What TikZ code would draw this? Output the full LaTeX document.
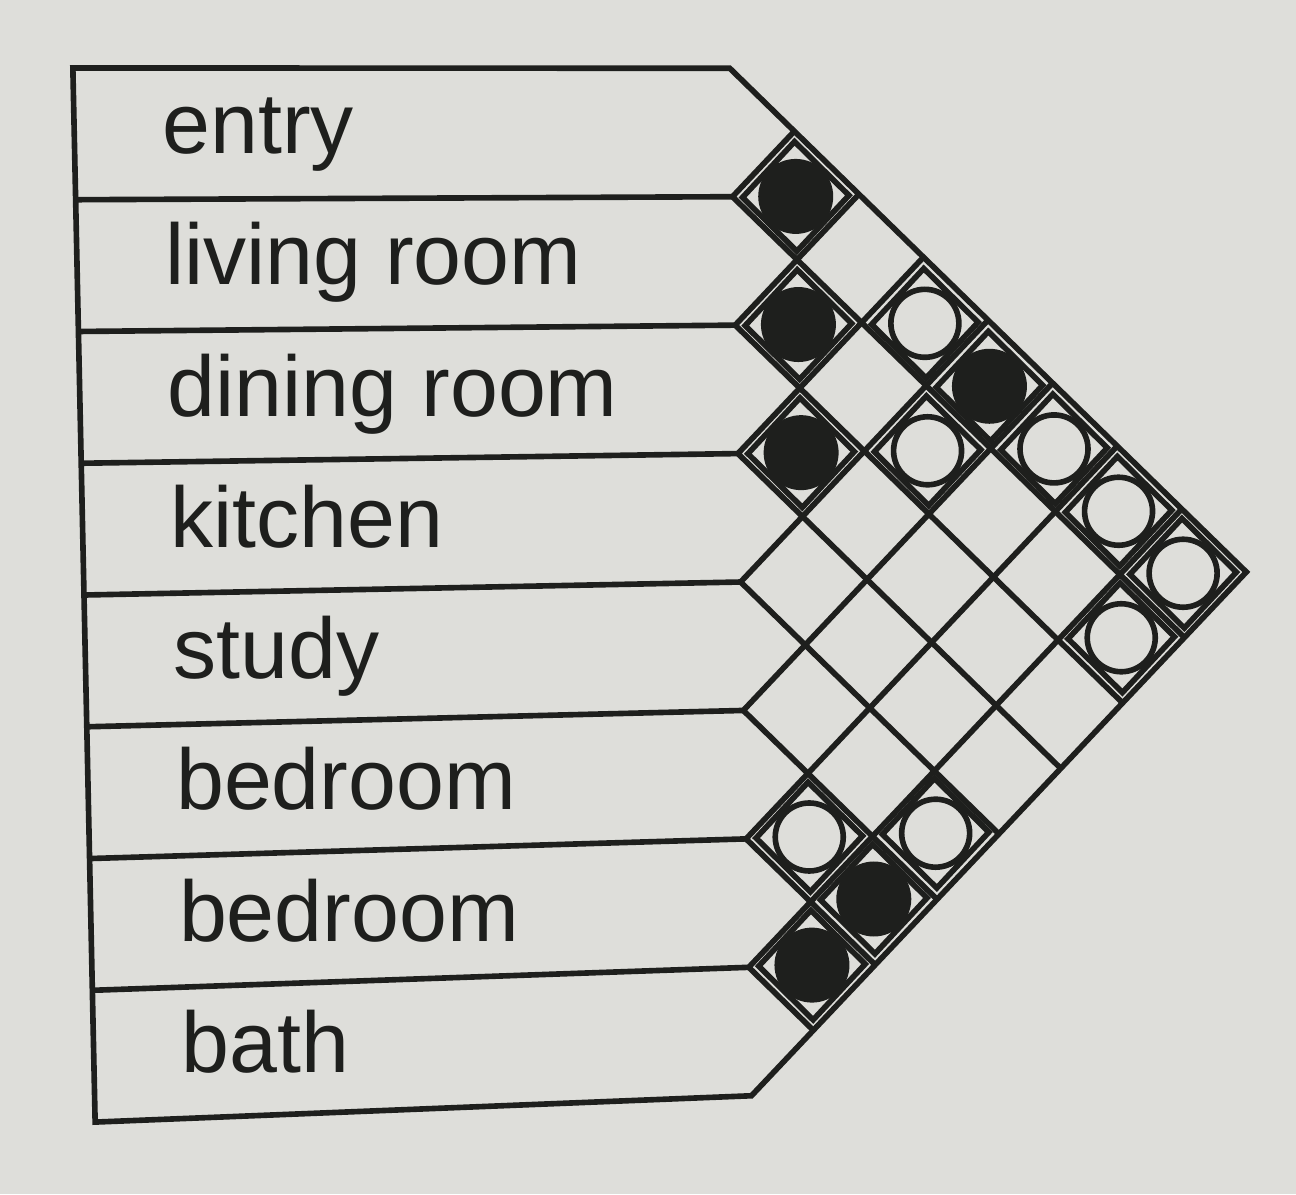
\documentclass[tikz,border=0pt]{standalone}
\usepackage{fontspec}
\setmainfont{Liberation Sans}
\usetikzlibrary{calc}
\definecolor{paper}{RGB}{222,222,218}
\definecolor{ink}{RGB}{30,31,29}
\tikzset{gridline/.style={ % outline and every line of the grid
draw=ink,
line width=1.6pt},
room/.style={ % name of a room, set on its baseline
anchor=base west,
inner sep=0pt,
text=ink,
font=\fontsize{24.5}{28}\selectfont},
markframe/.style={ % small square round a mark
draw=ink,
line width=1.6pt},
strongmark/.style={ % filled circle
circle, fill=ink, inner sep=0pt, minimum size=0.75cm},
weakmark/.style={ % open circle
circle, draw=ink, line width=1.6pt, inner sep=0pt, minimum size=0.68cm}}

\begin{document}
\begin{tikzpicture}[x={(0.01cm,0.000193cm)}, y={(-0.0275cm,1.301cm)},
	declare function={wv(\u,\v)=\v+(\v-4)*0.0128*(1-2*\u/657);}] % rows a bit taller on the left, as in the photo
	\def\rowlen{657} % a row up to the grid
	\def\halfw{63.25} % half width of a grid square
	\fill[paper] (-0.73cm,0.746cm) rectangle (12.23cm,-11.194cm);
	\useasboundingbox (-0.73cm,0.746cm) rectangle (12.23cm,-11.194cm);

	\foreach \k in {0,...,8} {
		\coordinate (l\k) at (0,{-wv(0,\k)});
		\coordinate (r\k) at (\rowlen,{-wv(\rowlen,\k)});
	}
	\coordinate (tip) at ({\rowlen+8*\halfw},-4);
	\draw[gridline] (tip) -- (r0) -- (l0) -- (l8) -- (r8) -- cycle;
	\foreach \k in {1,...,7} {
		\draw[gridline] (l\k) -- (r\k);
		\draw[gridline] ($(r0)!\k/8!(tip)$) -- (r\k) -- ($(r8)!1-\k/8!(tip)$);
	}

	\node[room] (entry) at (87,{-wv(87,0.65)}) {entry};
	\node[room] (living) at (87,{-wv(87,1.65)}) {living room};
	\node[room] (dining) at (87,{-wv(87,2.65)}) {dining room};
	\node[room] (kitchen) at (87,{-wv(87,3.65)}) {kitchen};
	\node[room] (study) at (87,{-wv(87,4.65)}) {study};
	\node[room] (bedroomA) at (87,{-wv(87,5.65)}) {bedroom};
	\node[room] (bedroomB) at (87,{-wv(87,6.65)}) {bedroom};
	\node[room] (bath) at (87,{-wv(87,7.65)}) {bath};

	% square of rows i and j sits (i+j+1)/2 rows down, j-i half widths out
	\foreach \i/\j/\kind in {0/1/strongmark,1/2/strongmark,2/3/strongmark,0/4/strongmark,5/7/strongmark,6/7/strongmark,0/3/weakmark,1/4/weakmark,0/5/weakmark,0/6/weakmark,0/7/weakmark,1/7/weakmark,5/6/weakmark,4/7/weakmark} {
		\coordinate (c\i\j) at ({\rowlen+(\j-\i)*\halfw},{-wv(\rowlen+(\j-\i)*\halfw,(\i+\j+1)/2)});
		\draw[markframe] (c\i\j) ++(-53.25,0) -- ++(53.25,0.421) -- ++(53.25,-0.421) -- ++(-53.25,-0.421) -- cycle;
		\node[\kind] (m\i\j) at (c\i\j) {};
	}
\end{tikzpicture}
\end{document}
